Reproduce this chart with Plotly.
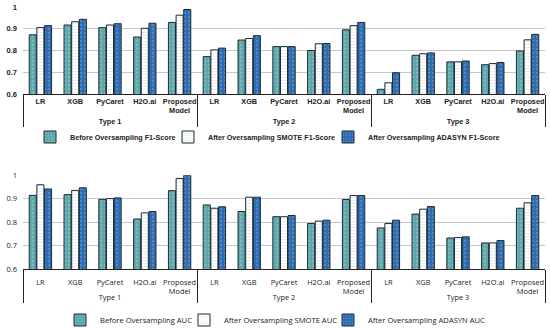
import plotly.graph_objects as go
from plotly.subplots import make_subplots

types = ["Type 1"] * 5 + ["Type 2"] * 5 + ["Type 3"] * 5
models = ["LR", "XGB", "PyCaret", "H2O.ai", "Proposed<br>Model"] * 3

f1_before = [0.872, 0.917, 0.905, 0.862, 0.929,
             0.772, 0.848, 0.818, 0.800, 0.895,
             0.622, 0.778, 0.748, 0.735, 0.798]
f1_smote = [0.905, 0.932, 0.917, 0.902, 0.962,
            0.803, 0.855, 0.818, 0.831, 0.914,
            0.652, 0.785, 0.748, 0.740, 0.849]
f1_adasyn = [0.914, 0.943, 0.923, 0.925, 0.988,
             0.811, 0.868, 0.818, 0.832, 0.929,
             0.698, 0.789, 0.752, 0.745, 0.874]

auc_before = [0.914, 0.917, 0.897, 0.813, 0.934,
              0.873, 0.845, 0.823, 0.794, 0.896,
              0.775, 0.834, 0.732, 0.711, 0.859]
auc_smote = [0.959, 0.935, 0.900, 0.839, 0.986,
             0.859, 0.906, 0.823, 0.804, 0.913,
             0.794, 0.855, 0.734, 0.711, 0.882]
auc_adasyn = [0.941, 0.946, 0.903, 0.845, 0.999,
              0.865, 0.906, 0.828, 0.808, 0.913,
              0.808, 0.866, 0.737, 0.721, 0.913]

top_names = ["Before Oversampling F1-Score", "After Oversampling SMOTE F1-Score",
             "After Oversampling ADASYN F1-Score"]
bot_names = ["Before Oversampling AUC", "After Oversampling SMOTE AUC",
             "After Oversampling ADASYN AUC"]

TEAL = "#5ca7ae"
BLUE = "#2b6cb3"
EDGE = "#1e2a30"

styles = [
    dict(color=TEAL, pattern=dict(shape=".", fgcolor="#9fd0d4", size=4, solidity=0.25)),
    dict(color="#ffffff", pattern=dict(shape="-", fgcolor="#c8d4d8", size=3, solidity=0.3)),
    dict(color=BLUE, pattern=dict(shape=".", fgcolor="#7fa8da", size=4, solidity=0.25)),
]

W, H = 550, 328
ML, MR = 23, 5
PW = W - ML - MR

top_font = dict(family="Liberation Sans, Arial", size=7.3, color="#222222", weight="bold")
bot_font = dict(family="Open Sans", size=7.4, color="#222222")
top_leg_font = dict(family="Liberation Sans, Arial", size=7.2, color="#222222", weight="bold")
bot_leg_font = dict(family="Open Sans", size=7.6, color="#222222")

# legend icon left positions (px) and vertical centres (px)
top_leg_x = [44, 182, 342]
bot_leg_x = [74, 198, 342]
top_leg_y = 137
bot_leg_y = 320

fig = make_subplots(rows=2, cols=1, vertical_spacing=0.1)

x = [types, models]
legend_layout = {}
k = 0
for row, series, names, lx, ly, lfont in [
        (1, [f1_before, f1_smote, f1_adasyn], top_names, top_leg_x, top_leg_y, top_leg_font),
        (2, [auc_before, auc_smote, auc_adasyn], bot_names, bot_leg_x, bot_leg_y, bot_leg_font)]:
    for vals, name, st, ix in zip(series, names, styles, lx):
        k += 1
        lname = "legend" if k == 1 else f"legend{k}"
        fig.add_trace(go.Bar(x=x, y=vals, name=name, legend=lname, showlegend=True,
                             marker=dict(color=st["color"], pattern=st["pattern"],
                                         line=dict(color=EDGE, width=1))), row=row, col=1)
        legend_layout[lname] = dict(
            orientation="h", x=(ix - 14 - ML) / PW, xanchor="left",
            y=1 - ly / H, yanchor="middle", font=lfont, itemwidth=30,
            bgcolor="rgba(0,0,0,0)", borderwidth=0)

fig.update_layout(
    width=W, height=H, autosize=False, showlegend=True,
    margin=dict(l=ML, r=MR, t=0, b=0, autoexpand=False),
    paper_bgcolor="white", plot_bgcolor="white",
    barmode="group", bargap=0.34, bargroupgap=0.08,
    **legend_layout,
)

fig.update_layout(
    xaxis=dict(domain=[0, 1]),
    yaxis=dict(domain=[0.713, 0.979]),
    xaxis2=dict(domain=[0, 1]),
    yaxis2=dict(domain=[0.180, 0.466]),
)

for i, fnt in [(1, top_font), (2, bot_font)]:
    fig.update_xaxes(row=i, col=1, type="multicategory", showline=True, linecolor="#222222",
                     linewidth=1, showdividers=True, dividercolor="#222222", dividerwidth=1,
                     tickfont=fnt, tickangle=0, automargin=False,
                     ticks="", showgrid=False)
    fig.update_yaxes(row=i, col=1, range=[0.6, 1.0], dtick=0.1, showgrid=True,
                     gridcolor="#c8c8c8", gridwidth=1, zeroline=False, showline=False,
                     tickfont=dict(fnt, size=7.5), automargin=False,
                     ticks="", ticklabelstandoff=5)
fig.update_xaxes(row=2, col=1, ticklabelstandoff=6)

fig.write_html("out.html", config={"displayModeBar": False},
               post_script="document.body.style.margin='0';document.body.style.overflow='hidden';")
